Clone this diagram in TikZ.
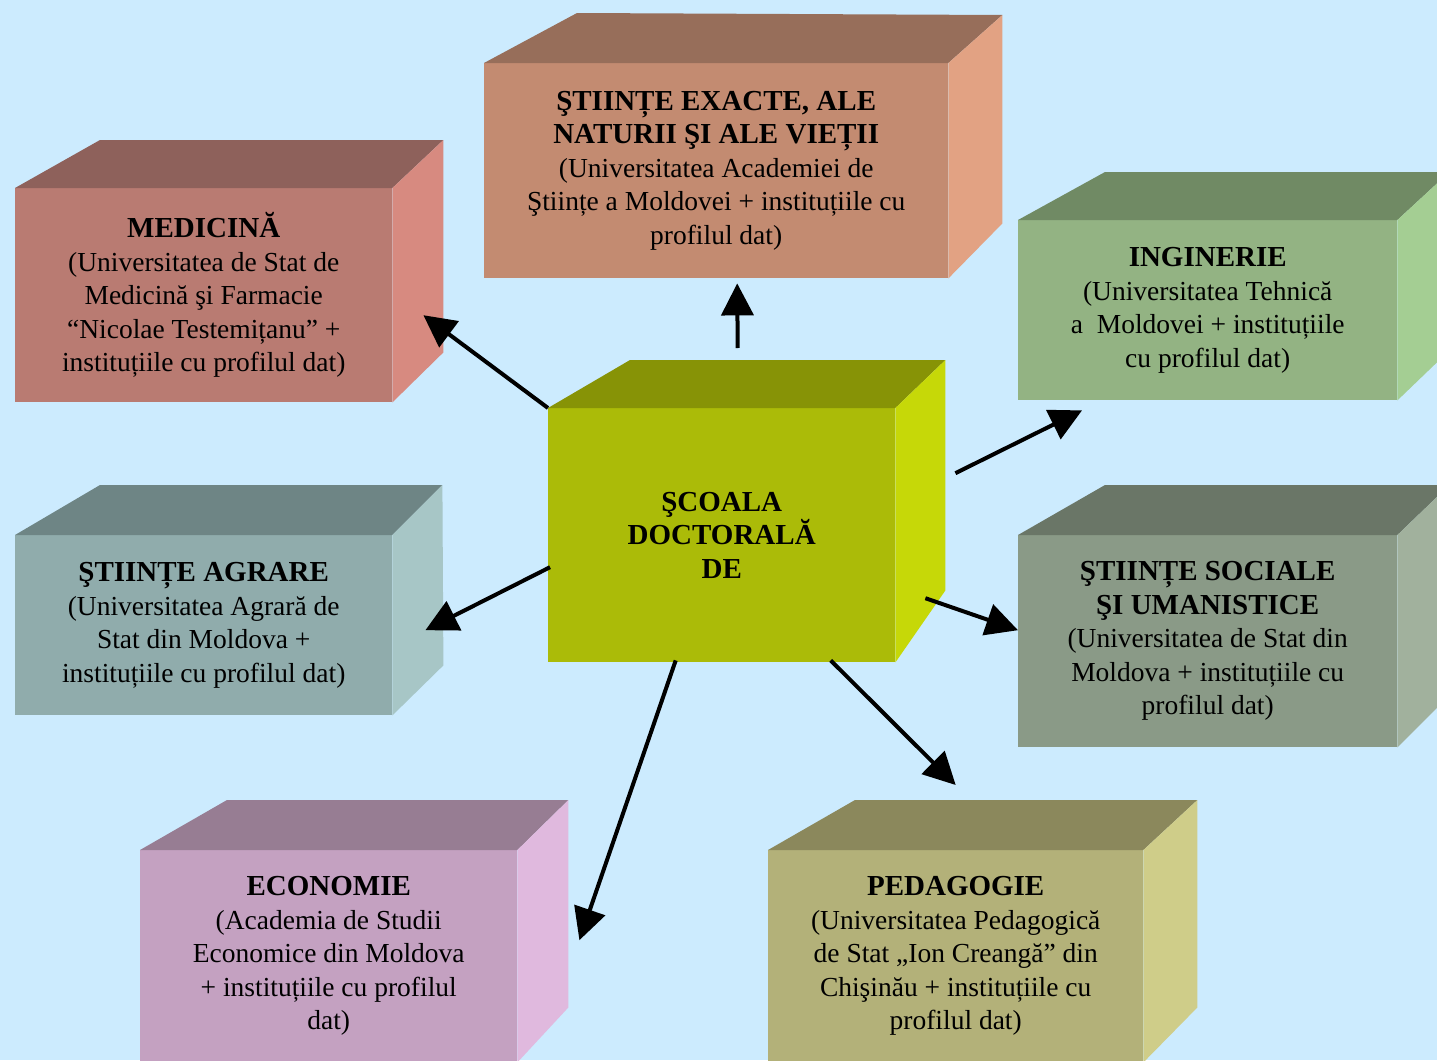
\documentclass[tikz,border=0pt]{standalone}
\usepackage{fontspec}
\setmainfont{Liberation Serif}
\usetikzlibrary{arrows.meta}

\definecolor{bgblue}{HTML}{CCEBFE}
\definecolor{exfront}{HTML}{C38B71}
\definecolor{extop}{HTML}{976E5A}
\definecolor{exside}{HTML}{E2A283}
\definecolor{medfront}{HTML}{B97B72}
\definecolor{medtop}{HTML}{8E615B}
\definecolor{medside}{HTML}{D78A80}
\definecolor{ingfront}{HTML}{93B383}
\definecolor{ingtop}{HTML}{708A64}
\definecolor{ingside}{HTML}{A4CE93}
\definecolor{midfront}{HTML}{ABBB08}
\definecolor{midtop}{HTML}{879306}
\definecolor{midside}{HTML}{C6D808}
\definecolor{agrfront}{HTML}{90ACAC}
\definecolor{agrtop}{HTML}{6E8585}
\definecolor{agrside}{HTML}{A7C6C6}
\definecolor{socfront}{HTML}{8A9A87}
\definecolor{soctop}{HTML}{6A7667}
\definecolor{socside}{HTML}{A1B19D}
\definecolor{ecofront}{HTML}{C4A1C1}
\definecolor{ecotop}{HTML}{977D93}
\definecolor{ecoside}{HTML}{E0B9DE}
\definecolor{pedfront}{HTML}{B3B179}
\definecolor{pedtop}{HTML}{8B885C}
\definecolor{pedside}{HTML}{CFCD89}

\tikzset{
  face/.style={anchor=north west, inner sep=0pt, align=center,
    font=\fontsize{27.5}{33.5}\selectfont},
  arrow/.style={line width=4pt, -{Triangle[length=32pt,width=32pt]}},
}

% title line of a box
\newcommand{\ttl}[1]{{\fontsize{29}{33.5}\selectfont\bfseries #1}}
% top and side faces: node, colour prefix, back offsets (left, right, bottom)
\newcommand{\boxsides}[5]{%
  \fill[#2top] (#1.north west) -- ++(#3) -- ([shift={(#4)}]#1.north east) -- (#1.north east) -- cycle;
  \fill[#2side] (#1.north east) -- ([shift={(#4)}]#1.north east) -- ([shift={(#5)}]#1.south east) -- (#1.south east) -- cycle;
}

\begin{document}
\begin{tikzpicture}[x=1pt, y=-1pt]
\useasboundingbox (0,0) rectangle (1437,1060);
\clip (0,0) rectangle (1437,1060);
\fill[bgblue] (0,0) rectangle (1437,1060);

% front faces
\node[face, fill=exfront, minimum width=464, minimum height=215] (exacte) at (484,63)
  {\ttl{ŞTIINȚE EXACTE, ALE}\\\ttl{NATURII ŞI ALE VIEȚII}\\(Universitatea Academiei de\\Ştiințe a Moldovei + instituțiile cu\\profilul dat)};
\node[face, fill=medfront, minimum width=377, minimum height=214] (med) at (15,188)
  {\ttl{MEDICINĂ}\\(Universitatea de Stat de\\Medicină şi Farmacie\\“Nicolae Testemițanu” +\\instituțiile cu profilul dat)};
\node[face, fill=ingfront, minimum width=379, minimum height=180] (ing) at (1018,220)
  {\ttl{INGINERIE}\\(Universitatea Tehnică\\a~ Moldovei + instituțiile\\cu profilul dat)};
\node[face, fill=midfront, minimum width=347, minimum height=254] (scoala) at (548,408)
  {\ttl{ŞCOALA}\\\ttl{DOCTORALĂ}\\\ttl{DE}};
\node[face, fill=agrfront, minimum width=377, minimum height=180] (agr) at (15,535)
  {\ttl{ŞTIINȚE AGRARE}\\(Universitatea Agrară de\\Stat din Moldova +\\instituțiile cu profilul dat)};
\node[face, fill=socfront, minimum width=379, minimum height=212] (soc) at (1018,535)
  {\ttl{ŞTIINȚE SOCIALE}\\\ttl{ŞI UMANISTICE}\\(Universitatea de Stat din\\Moldova + instituțiile cu\\profilul dat)};
\node[face, fill=ecofront, minimum width=377, minimum height=212] (eco) at (140,850)
  {\ttl{ECONOMIE}\\(Academia de Studii\\Economice din Moldova\\+ instituțiile cu profilul\\dat)};
\node[face, fill=pedfront, minimum width=375, minimum height=212] (ped) at (768,850)
  {\ttl{PEDAGOGIE}\\(Universitatea Pedagogică\\de Stat „Ion Creangă” din\\Chişinău + instituțiile cu\\profilul dat)};

% top and side faces
\boxsides{exacte}{ex}{93,-50}{54,-48}{54,-55}
\boxsides{med}{med}{85,-48}{51,-48}{51,-50}
\boxsides{ing}{ing}{87,-48}{52,-48}{52,-50}
\boxsides{scoala}{mid}{82,-48}{50,-48}{50,-72}
\boxsides{agr}{agr}{85,-50}{50,-50}{51,-50}
\boxsides{soc}{soc}{87,-50}{52,-50}{52,-52}
\boxsides{eco}{eco}{87,-50}{51,-50}{51,-55}
\boxsides{ped}{ped}{87,-50}{54,-50}{54,-55}

% arrows
\draw[arrow] ([shift={(16,-60)}]scoala.north) -- ([shift={(21,5)}]exacte.south);
\draw[arrow] (scoala.north west) -- ([shift={(31,20)}]med.east);
\draw[arrow] ([shift={(60,-62)}]scoala.east) -- ([shift={(64,10)}]ing.south west);
\draw[arrow] ([shift={(2,32)}]scoala.west) -- ([shift={(33,5)}]agr.east);
\draw[arrow] ([shift={(30,63)}]scoala.east) -- ([shift={(0,-11)}]soc.west);
\draw[arrow] ([shift={(-46,-2)}]scoala.south) -- ([shift={(62,-16)}]eco.east);
\draw[arrow] ([shift={(109,-2)}]scoala.south) -- ([shift={(0,-65)}]ped.north);
\end{tikzpicture}
\end{document}
